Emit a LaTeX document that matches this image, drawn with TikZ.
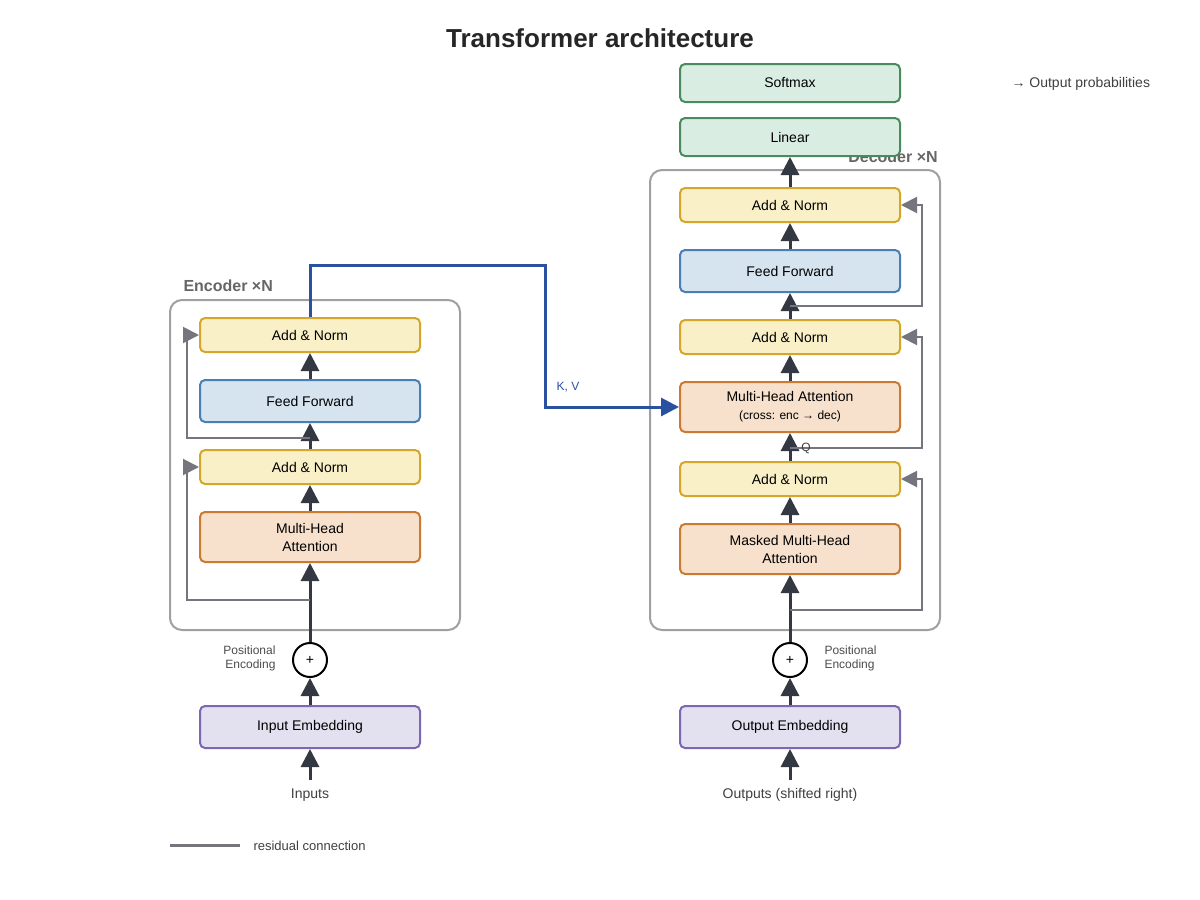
\documentclass[tikz,border=0pt]{standalone}
\usepackage{fontspec}
\setmainfont{Liberation Sans}
\usetikzlibrary{arrows.meta}
\definecolor{ylf}{HTML}{FAF0C8}\definecolor{yld}{HTML}{D4A62A}
\definecolor{blf}{HTML}{D6E4F0}\definecolor{bld}{HTML}{4A7FB5}
\definecolor{orf}{HTML}{F7E1CC}\definecolor{ord}{HTML}{CC7A30}
\definecolor{puf}{HTML}{E3E0F0}\definecolor{pud}{HTML}{7B68B0}
\definecolor{grf}{HTML}{D9EDE2}\definecolor{grd}{HTML}{4A8A5E}
\definecolor{frame}{HTML}{A0A0A4}\definecolor{resid}{HTML}{75757D}
\definecolor{dark}{HTML}{333842}\definecolor{kv}{HTML}{2A50A0}
\begin{document}
\begin{tikzpicture}[x=1pt,y=-1pt,font=\fontsize{14}{16}\selectfont,
  blk/.style={draw=#1d,fill=#1f,line width=2pt,rounded corners=5pt,minimum width=220pt,align=center,inner sep=0pt},
  main/.style={draw=dark,line width=3pt,-{Triangle[width=18pt,length=18pt]}},
  res/.style={draw=resid,line width=2pt,-{Triangle[width=16pt,length=16pt]}},
  lbl/.style={font=\fontsize{12}{14}\selectfont,text=black!70}]
\useasboundingbox (0,0) rectangle (1200,900);
\fill[white] (0,0) rectangle (1200,900);
\node[font=\bfseries\fontsize{26}{30}\selectfont,text=black!85] (title) at (600,38) {Transformer architecture};
% encoder
\draw[frame,line width=2pt,rounded corners=12pt] (170,300) rectangle (460,630);
\node[font=\bfseries\fontsize{16}{18}\selectfont,text=black!60,anchor=west] (enl) at (180,286) {Encoder ×N};
\node[blk=yl,minimum height=34pt] (ean2) at (310,335) {Add \& Norm};
\node[blk=bl,minimum height=42pt] (eff) at (310,401) {Feed Forward};
\node[blk=yl,minimum height=34pt] (ean1) at (310,467) {Add \& Norm};
\node[blk=or,minimum height=50pt] (emha) at (310,537) {Multi-Head\\[2pt]Attention};
\node[draw=black,line width=2pt,circle,minimum size=34pt,inner sep=0pt,fill=white] (eplus) at (310,660) {+};
\node[lbl,align=right,anchor=east] (epe) at (279,658) {Positional\\Encoding};
\node[blk=pu,minimum height=42pt] (eemb) at (310,727) {Input Embedding};
\node[text=black!75] (inp) at (310,795) {Inputs};
\coordinate (einb) at (310,780);
\draw[main] (einb) -- (eemb.south);
\draw[main] (eemb.north) -- (eplus.south);
\draw[main] (eplus.north) -- (emha.south);
\draw[main] (emha.north) -- (ean1.south);
\draw[main] (ean1.north) -- (eff.south);
\draw[main] (eff.north) -- (ean2.south);
\draw[res] (310,600) -- (187,600) -- (187,467) -- (ean1.west);
\draw[res] (310,438) -- (187,438) -- (187,335) -- (ean2.west);
% decoder
\node[font=\bfseries\fontsize{16}{18}\selectfont,text=black!60] (del) at (893,157) {Decoder ×N};
\draw[frame,line width=2pt,rounded corners=12pt] (650,170) rectangle (940,630);
\node[blk=gr,minimum height=38pt] (soft) at (790,83) {Softmax};
\node[blk=gr,minimum height=38pt] (lin) at (790,137) {Linear};
\node[anchor=west,text=black!75] (outp) at (1008,84) {→ Output probabilities};
\node[blk=yl,minimum height=34pt] (dan3) at (790,205) {Add \& Norm};
\node[blk=bl,minimum height=42pt] (dff) at (790,271) {Feed Forward};
\node[blk=yl,minimum height=34pt] (dan2) at (790,337) {Add \& Norm};
\node[blk=or,minimum height=50pt] (dcross) at (790,407) {Multi-Head Attention\\[2pt]{\fontsize{12}{14}\selectfont (cross: enc → dec)}};
\node[blk=yl,minimum height=34pt] (dan1) at (790,479) {Add \& Norm};
\node[blk=or,minimum height=50pt] (dmask) at (790,549) {Masked Multi-Head\\[2pt]Attention};
\node[draw=black,line width=2pt,circle,minimum size=34pt,inner sep=0pt,fill=white] (dplus) at (790,660) {+};
\node[lbl,align=left,anchor=west] (dpe) at (821,658) {Positional\\Encoding};
\node[blk=pu,minimum height=42pt] (demb) at (790,727) {Output Embedding};
\node[text=black!75] (outs) at (790,795) {Outputs (shifted right)};
\coordinate (dinb) at (790,780);
\draw[main] (dinb) -- (demb.south);
\draw[main] (demb.north) -- (dplus.south);
\draw[main] (dplus.north) -- (dmask.south);
\draw[main] (dmask.north) -- (dan1.south);
\draw[main] (dan1.north) -- (dcross.south);
\draw[main] (dcross.north) -- (dan2.south);
\draw[main] (dan2.north) -- (dff.south);
\draw[main] (dff.north) -- (dan3.south);
\draw[main] (dan3.north) -- (lin.south);
\draw[res] (790,610) -- (922,610) -- (922,479) -- (dan1.east);
\draw[res] (790,448) -- (922,448) -- (922,337) -- (dan2.east);
\draw[res] (790,306) -- (922,306) -- (922,205) -- (dan3.east);
\node[font=\fontsize{12}{14}\selectfont,text=black!75] (q) at (806,448) {Q};
% cross
\draw[kv,line width=3pt,-{Triangle[width=18pt,length=18pt]}] (ean2.north) -- (310,265) -- (545,265) -- (545,407) -- (dcross.west);
\node[font=\fontsize{12}{14}\selectfont,text=kv] (kvl) at (568,387) {K, V};
% legend
\draw[resid,line width=3pt] (170,845) -- (240,845);
\node[anchor=west,font=\fontsize{13}{15}\selectfont,text=black!75] (leg) at (250,846) {residual connection};
\end{tikzpicture}
\end{document}
